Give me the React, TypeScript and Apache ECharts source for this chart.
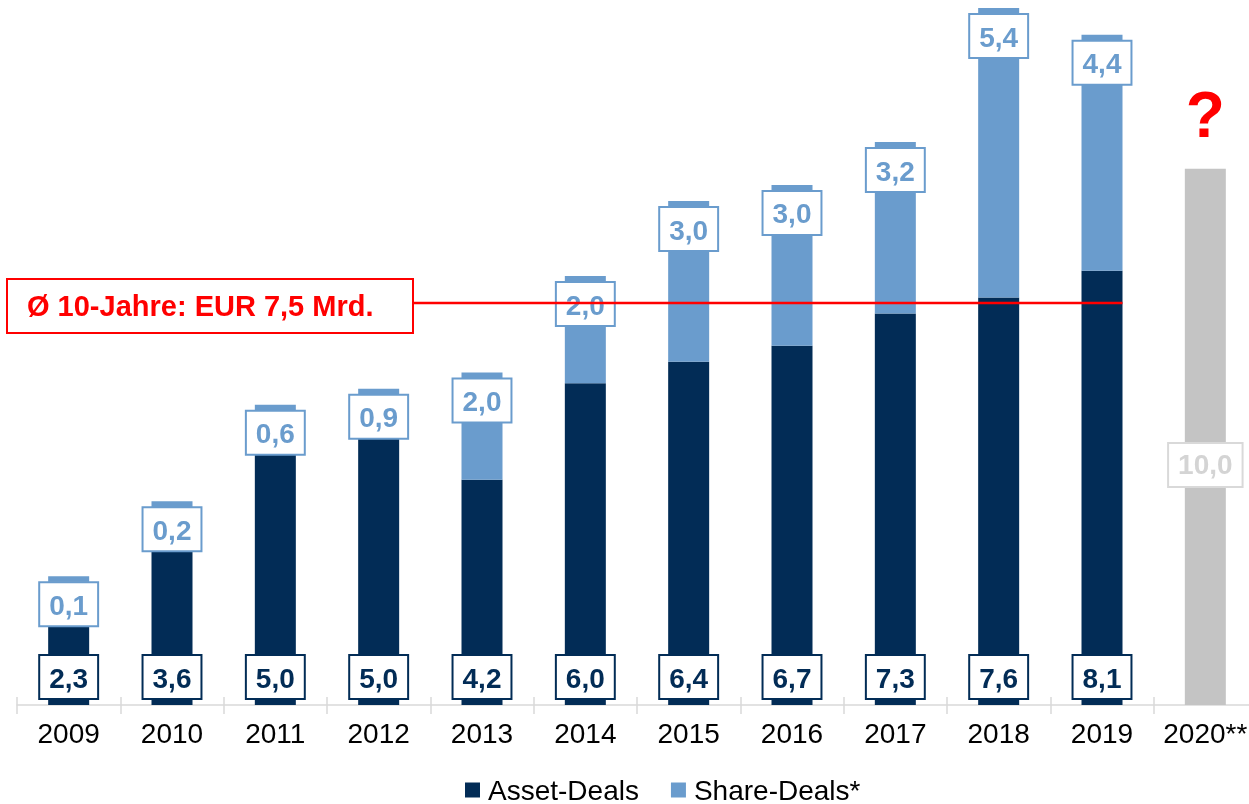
import React, { useEffect, useRef } from "react";
import * as echarts from "echarts";

const years = ["2009", "2010", "2011", "2012", "2013", "2014", "2015", "2016", "2017", "2018", "2019", "2020**"];
const assetDeals: (number | string)[] = [2.3, 3.6, 5.0, 5.0, 4.2, 6.0, 6.4, 6.7, 7.3, 7.6, 8.1, "-"];
const shareDeals: (number | string)[] = [0.1, 0.2, 0.6, 0.9, 2.0, 2.0, 3.0, 3.0, 3.2, 5.4, 4.4, "-"];
const forecast2020: (number | string)[] = ["-", "-", "-", "-", "-", "-", "-", "-", "-", "-", "-", 10.0];
const averageValue = 7.5;
const averageLabel = "Ø 10-Jahre: EUR 7,5 Mrd.";

const FONT = "'Liberation Sans', Arial, sans-serif";
const DARK = "#022C56";
const LIGHT = "#6A9CCD";
const GREY = "#C4C4C4";

const fmt = (p: any) => Number(p.value).toFixed(1).replace(".", ",");

const boxLabel = (color: string, border: string, position: any, distance: number) => ({
  show: true,
  position,
  distance,
  formatter: fmt,
  color,
  fontFamily: FONT,
  fontSize: 28,
  fontWeight: "bold",
  lineHeight: 30,
  backgroundColor: "#ffffff",
  borderColor: border,
  borderWidth: 2,
  padding: [7, 9, 5, 9],
});

export default function App() {
  const ref = useRef<HTMLDivElement>(null);
  useEffect(() => {
    if (!ref.current) return;
    const chart = echarts.init(ref.current, null, { renderer: "svg" });
    chart.setOption({
      animation: false,
      textStyle: { fontFamily: FONT },
      grid: { left: 17, width: 1240, top: 8, bottom: 99, containLabel: false, outerBoundsMode: "none" },
      legend: {
        data: ["Asset-Deals", "Share-Deals*"],
        left: 460,
        top: 771,
        icon: "rect",
        itemWidth: 15,
        itemHeight: 15,
        itemGap: 32,
        textStyle: { fontSize: 28, color: "#000", fontFamily: FONT, padding: [0, 0, 0, 3] },
      },
      xAxis: [
        {
          type: "category",
          data: years,
          axisLine: { lineStyle: { color: "#D9D9D9", width: 1.5 } },
          axisTick: { show: true, length: 9, lineStyle: { color: "#D9D9D9", width: 1.5 } },
          axisLabel: { color: "#000", fontSize: 28, fontFamily: FONT, margin: 14, interval: 0 },
        },
        {
          type: "category",
          data: years,
          position: "bottom",
          axisLine: { show: false },
          axisTick: { show: true, inside: true, length: 8, lineStyle: { color: "#D9D9D9", width: 1.5 } },
          axisLabel: { show: false },
        },
        { type: "value", min: 0, max: 12, show: false },
      ],
      yAxis: { type: "value", min: 0, max: 13, show: false, splitLine: { show: false } },
      series: [
        {
          name: "Asset-Deals",
          type: "bar",
          stack: "total",
          barWidth: 41,
          data: assetDeals,
          itemStyle: { color: DARK },
          label: boxLabel(DARK, DARK, "insideBottom", 7),
          z: 2,
        },
        {
          name: "Share-Deals*",
          type: "bar",
          stack: "total",
          barWidth: 41,
          data: shareDeals,
          itemStyle: { color: LIGHT },
          label: boxLabel(LIGHT, LIGHT, "insideTop", 7),
          z: 3,
        },
        {
          name: "2020",
          type: "bar",
          stack: "total",
          barWidth: 41,
          data: forecast2020,
          itemStyle: { color: GREY },
          label: { ...boxLabel("#D4D4D4", "#D9D9D9", "inside", 0), offset: [0, 28] },
          markPoint: {
            symbol: "circle",
            symbolSize: 0,
            data: [{ coord: ["2020**", 10], value: 10 }],
            label: {
              show: true,
              position: "top",
              distance: 22,
              formatter: "?",
              color: "#FF0000",
              fontSize: 64,
              fontWeight: "bold",
              fontFamily: FONT,
            },
          },
        },
        {
          name: "avg",
          type: "line",
          xAxisIndex: 2,
          symbol: "none",
          data: [
            [3.823, averageValue],
            [10.698, averageValue],
          ],
          lineStyle: { color: "#FF0000", width: 2.5 },
          z: 5,
          silent: true,
        },
      ],
      graphic: [
        {
          type: "group",
          left: 6,
          top: 278,
          children: [
            {
              type: "rect",
              shape: { x: 0, y: 0, width: 406, height: 54 },
              style: { fill: "#ffffff", stroke: "#FF0000", lineWidth: 2 },
            },
            {
              type: "text",
              x: 20,
              y: 27,
              style: {
                text: averageLabel,
                fill: "#FF0000",
                font: `bold 29px ${FONT}`,
                verticalAlign: "middle",
              },
            },
          ],
        },
      ],
    });
    return () => chart.dispose();
  }, []);
  return <div ref={ref} style={{ position: "fixed", left: 0, top: 0, width: 1249, height: 804 }} />;
}
